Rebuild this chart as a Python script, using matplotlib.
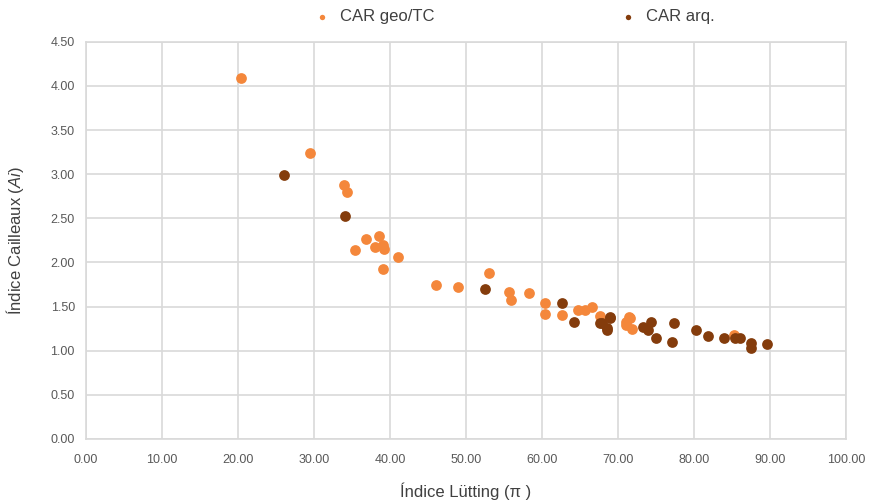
import matplotlib
matplotlib.use("Agg")
import matplotlib.pyplot as plt
import numpy as np

plt.rcParams['font.family'] = ['Liberation Sans', 'DejaVu Sans']
plt.rcParams['mathtext.fontset'] = 'custom'
plt.rcParams['mathtext.rm'] = 'Liberation Sans'
plt.rcParams['mathtext.it'] = 'Liberation Sans:italic'

geo_x = [20.4, 29.5, 33.9, 34.3, 36.9, 38.6, 35.4, 38.0, 39.1, 39.2, 41.0, 39.1,
         46.1, 49.0, 53.0, 55.7, 55.9, 58.3, 60.4, 60.4, 62.6, 64.8, 65.7, 66.6,
         67.6, 71.6, 71.1, 71.8, 71.5, 71.1, 85.3]
geo_y = [4.09, 3.24, 2.88, 2.80, 2.27, 2.30, 2.14, 2.18, 2.20, 2.15, 2.06, 1.93,
         1.74, 1.72, 1.88, 1.66, 1.58, 1.65, 1.54, 1.42, 1.40, 1.46, 1.46, 1.49,
         1.39, 1.37, 1.29, 1.25, 1.38, 1.32, 1.18]

arq_x = [26.1, 34.1, 52.5, 62.6, 64.2, 67.6, 68.9, 68.5, 67.9, 68.9, 68.5,
         73.3, 74.4, 74.0, 75.0, 77.4, 77.1, 80.3, 81.8, 84.0, 85.4, 86.1,
         87.5, 87.5, 89.6]
arq_y = [2.99, 2.53, 1.70, 1.54, 1.33, 1.31, 1.37, 1.26, 1.31, 1.38, 1.24,
         1.27, 1.33, 1.24, 1.14, 1.31, 1.10, 1.24, 1.17, 1.14, 1.14, 1.14,
         1.09, 1.03, 1.08]

x_ticks = np.arange(0, 101, 10)
y_ticks = np.arange(0, 4.51, 0.5)

fig = plt.figure(figsize=(8.73, 5.04), dpi=100)
ax = fig.add_axes([0.0985, 0.129, 0.8705, 0.788])

orange = '#F4873B'
brown = '#843C0C'
ax.scatter(geo_x, geo_y, s=60, color=orange, label='CAR geo/TC', zorder=3, linewidths=0)
ax.scatter(arq_x, arq_y, s=60, color=brown, label='CAR arq.', zorder=3, linewidths=0)

ax.set_xlim(0, 100)
ax.set_ylim(0, 4.5)
ax.set_xticks(x_ticks)
ax.set_yticks(y_ticks)
ax.set_xticklabels([f"{v:.2f}" for v in x_ticks])
ax.set_yticklabels([f"{v:.2f}" for v in y_ticks])
ax.grid(True, color='#D9D9D9', linewidth=1.2, zorder=0)
ax.set_axisbelow(True)
for s in ax.spines.values():
    s.set_color('#D9D9D9')
    s.set_linewidth(1.2)
ax.tick_params(length=0, labelsize=9, colors='#595959')
ax.tick_params(axis='x', pad=11)
ax.tick_params(axis='y', pad=8)

ax.set_xlabel('Índice Lütting (π )', fontsize=12, color='#404040', labelpad=12)
ax.set_ylabel(r'Índice Cailleaux ($Ai$)', fontsize=12, color='#404040', labelpad=18)

leg = fig.legend(loc='upper center', bbox_to_anchor=(0.584, 1.012), ncol=2, frameon=False,
                 fontsize=12, markerscale=0.5, handletextpad=0.1, columnspacing=10.6,
                 labelcolor='#404040')

fig.savefig('out.png', dpi=100)
